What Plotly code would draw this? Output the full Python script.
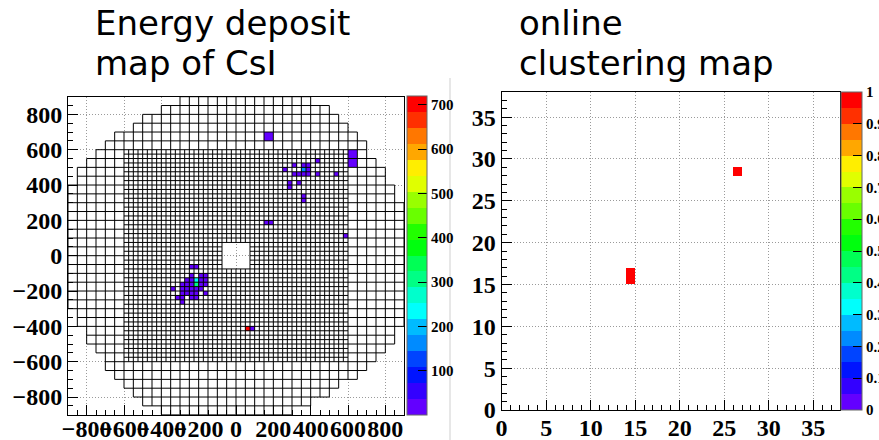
import numpy as np
import plotly.graph_objects as go

W, H = 879, 440

# ---------------- CsI calorimeter geometry (mm) ----------------
SMALL_CELL = 25
LARGE_CELL = 50
SMALL_HALF = 600
HOLE_HALF = 75
# upper-left quadrant: for each large-crystal column (inner |x| edge), top edge in y;
# the other quadrants follow by 90 degree rotation
LARGE_COL_INNER = list(range(0, 900, 50))
LARGE_COL_YMAX = [900, 900, 900, 900, 900, 900, 850, 850, 800, 800,
                  750, 700, 700, 650, 600, 550, 500, 400]

# ---------------- energy deposit hits ----------------
# lower-left corner of crystal (mm), crystal size (mm), deposited energy
HIT_X = [150, 600, 600,
         425, 250, 300, 350, 375, 350, 375, 350, 375, 300, 325, 425, 525,
         275, 275, 325, 350, 350, 150, 175, 575,
         -250, -225,
         -250, -200, -175,
         -275, -250, -225, -200, -175,
         -300, -275, -250, -225, -200, -175,
         -350, -300, -275, -250, -225, -200,
         -300, -275, -250, -225, -175,
         -325, -300, -250, -225,
         -300,
         50, 75]
HIT_Y = [650, 550, 500,
         525, 475, 500, 500, 500, 475, 475, 450, 450, 450, 450, 450, 450,
         400, 375, 400, 325, 300, 175, 175, 100,
         -75, -75,
         -125, -125, -125,
         -150, -150, -150, -150, -150,
         -175, -175, -175, -175, -175, -175,
         -200, -200, -200, -200, -200, -200,
         -225, -225, -225, -225, -225,
         -250, -250, -250, -250,
         -275,
         -425, -425]
HIT_SIZE = [50, 50, 50] + [25] * 55
HIT_E = [12, 20, 12,
         10, 10, 10, 10, 10, 160, 10, 10, 10, 10, 10, 10, 10,
         10, 10, 10, 10, 10, 10, 10, 10,
         10, 10,
         10, 10, 10,
         10, 10, 240, 10, 10,
         10, 10, 10, 300, 10, 10,
         10, 10, 10, 10, 10, 10,
         10, 10, 10, 10, 10,
         10, 10, 10, 10,
         10,
         710, 10]

# ---------------- online clustering map ----------------
CLUS_X = [14, 14, 26]
CLUS_Y = [15, 16, 28]
CLUS_V = [1, 1, 1]
CLUS_N = 38

E_MAX = 720
E_TICKS = [100, 200, 300, 400, 500, 600, 700]
CB_TICKS = [0, 0.1, 0.2, 0.3, 0.4, 0.5, 0.6, 0.7, 0.8, 0.9, 1]
CB_LABELS = ["0", "0.1", "0.2", "0.3", "0.4", "0.5", "0.6", "0.7", "0.8", "0.9", "1"]


# ---------------- ROOT "pretty" palette with 20 contours ----------------
def root_color(k, nbands=20, ncol=50):
    i = int((k + 0.99) * ncol / nbands)
    hue = 280 - (i + 1) * 280.0 / ncol

    def f(h):
        h = h % 360
        if h < 60:
            return h / 60
        if h < 180:
            return 1.0
        if h < 240:
            return (240 - h) / 60
        return 0.0

    r, g, b = f(hue + 120), f(hue), f(hue - 120)
    return "rgb(%d,%d,%d)" % (round(r * 255), round(g * 255), round(b * 255))


colorscale = []
for k in range(20):
    c = root_color(k)
    colorscale.append([k / 20, c])
    colorscale.append([(k + 1) / 20, c])

# ---------------- crystal list ----------------
cells = []
for ix in range(-SMALL_HALF // SMALL_CELL, SMALL_HALF // SMALL_CELL):
    for iy in range(-SMALL_HALF // SMALL_CELL, SMALL_HALF // SMALL_CELL):
        x0, y0 = ix * SMALL_CELL, iy * SMALL_CELL
        if -HOLE_HALF <= x0 < HOLE_HALF and -HOLE_HALF <= y0 < HOLE_HALF:
            continue
        cells.append((x0, y0, SMALL_CELL))

quad = []
for a, ymax in zip(LARGE_COL_INNER, LARGE_COL_YMAX):
    x0 = -a - LARGE_CELL
    for y0 in range(0, ymax, LARGE_CELL):
        if x0 >= -SMALL_HALF and y0 < SMALL_HALF:
            continue
        quad.append((x0, y0))
for _ in range(4):
    for x0, y0 in quad:
        cells.append((x0, y0, LARGE_CELL))
    quad = [(-(y0 + LARGE_CELL), x0) for x0, y0 in quad]   # rotate by 90 degrees

# ---------------- left heatmaps (25 mm bins) ----------------
NB = 72
centers = -900 + SMALL_CELL / 2 + SMALL_CELL * np.arange(NB)


def bin_of(v):
    return (v + 900) // SMALL_CELL


mask = np.full((NB, NB), np.nan)          # white crystal faces
for x0, y0, s in cells:
    n = s // SMALL_CELL
    mask[bin_of(y0):bin_of(y0) + n, bin_of(x0):bin_of(x0) + n] = 0

zl = np.full((NB, NB), np.nan)
for x, y, s, e in zip(HIT_X, HIT_Y, HIT_SIZE, HIT_E):
    n = s // SMALL_CELL
    zl[bin_of(y):bin_of(y) + n, bin_of(x):bin_of(x) + n] = e

# ---------------- crystal outlines ----------------
hseg, vseg = {}, {}
for x0, y0, s in cells:
    for yy in (y0, y0 + s):
        hseg.setdefault(yy, set()).add((x0, x0 + s))
    for xx in (x0, x0 + s):
        vseg.setdefault(xx, set()).add((y0, y0 + s))


def merge(segs):
    segs = sorted(segs)
    out = []
    for a, b in segs:
        if out and a <= out[-1][1]:
            out[-1][1] = max(out[-1][1], b)
        else:
            out.append([a, b])
    return out


lx, ly = [], []
for yy, segs in sorted(hseg.items()):
    for a, b in merge(segs):
        lx += [a, b, None]
        ly += [yy, yy, None]
for xx, segs in sorted(vseg.items()):
    for a, b in merge(segs):
        lx += [xx, xx, None]
        ly += [a, b, None]

# ---------------- right heatmap ----------------
zr = np.full((CLUS_N, CLUS_N), np.nan)
for x, y, v in zip(CLUS_X, CLUS_Y, CLUS_V):
    zr[y, x] = v
rc = np.arange(CLUS_N) + 0.5

fig = go.Figure()

cbfont = dict(family="Liberation Serif", size=15, color="black", weight="bold")

fig.add_trace(go.Heatmap(
    x=centers, y=centers, z=mask, zmin=0, zmax=1,
    colorscale=[[0, "white"], [1, "white"]], showscale=False,
    hoverinfo="skip", xaxis="x", yaxis="y",
))
fig.add_trace(go.Heatmap(
    x=centers, y=centers, z=zl, zmin=0, zmax=E_MAX, colorscale=colorscale,
    hoverongaps=False, xaxis="x", yaxis="y",
    colorbar=dict(x=407 / W, xanchor="left", y=1 - 96 / H, yanchor="top",
                  len=319 / H, lenmode="fraction", thickness=20, thicknessmode="pixels",
                  xpad=0, ypad=0, outlinewidth=1, outlinecolor="#666",
                  tickmode="array", tickvals=E_TICKS, ticks="inside", ticklen=9,
                  tickcolor="black", tickfont=cbfont),
))
fig.add_trace(go.Scatter(
    x=lx, y=ly, mode="lines", line=dict(color="black", width=1, simplify=False),
    hoverinfo="skip", showlegend=False, xaxis="x", yaxis="y",
))
fig.add_trace(go.Heatmap(
    x=rc, y=rc, z=zr, zmin=0, zmax=1, colorscale=colorscale,
    hoverongaps=False, xaxis="x2", yaxis="y2",
    colorbar=dict(x=841 / W, xanchor="left", y=1 - 92 / H, yanchor="top",
                  len=318 / H, lenmode="fraction", thickness=21, thicknessmode="pixels",
                  xpad=0, ypad=0, outlinewidth=1, outlinecolor="#666",
                  tickmode="array", tickvals=CB_TICKS, ticktext=CB_LABELS,
                  ticks="inside", ticklen=9, tickcolor="black", tickfont=cbfont),
))

tickfont = dict(family="Liberation Serif", size=24, color="black", weight="bold")
grid = dict(showgrid=True, gridcolor="#9a9a9a", griddash="1px,2px", gridwidth=1,
            showline=True, linecolor="black", linewidth=1, mirror=True,
            zeroline=False, ticks="inside", tickcolor="black", tickangle=0,
            tickfont=tickfont)

fig.update_layout(
    width=W, height=H, margin=dict(l=0, r=0, t=0, b=0, autoexpand=False),
    paper_bgcolor="white", plot_bgcolor="white", showlegend=False,
    xaxis=dict(domain=[68 / W, 404 / W], range=[-900, 900], tick0=0, dtick=200,
               ticklen=10, ticklabelstandoff=-8,
               minor=dict(dtick=50, tick0=0, ticks="inside", ticklen=5,
                          tickcolor="black", showgrid=False),
               anchor="y", **grid),
    yaxis=dict(domain=[1 - 414.7 / H, 1 - 96.7 / H], range=[-900, 900], tick0=0, dtick=200,
               ticklen=10, minor=dict(dtick=50, tick0=0, ticks="inside", ticklen=5,
                                      tickcolor="black", showgrid=False),
               anchor="x", **grid),
    xaxis2=dict(domain=[501.6 / W, 840 / W], range=[0, 38], tick0=0, dtick=5,
                ticklen=10, ticklabelstandoff=-4,
                minor=dict(dtick=1, tick0=0, ticks="inside", ticklen=5,
                           tickcolor="black", showgrid=False),
                anchor="y2", **grid),
    yaxis2=dict(domain=[1 - 410 / H, 1 - 92 / H], range=[0, 38], tick0=0, dtick=5,
                ticklen=10, minor=dict(dtick=1, tick0=0, ticks="inside", ticklen=5,
                                       tickcolor="black", showgrid=False),
                anchor="x2", **grid),
)

titlefont = dict(family="DejaVu Sans", size=34, color="black")
for txt, x, ypx in [("Energy deposit", 93, 23), ("map of CsI", 93, 63),
                    ("online", 517, 23), ("clustering map", 517, 63)]:
    fig.add_annotation(text=txt, x=x / W, y=1 - ypx / H, xref="paper", yref="paper",
                       xanchor="left", yanchor="middle", showarrow=False,
                       font=titlefont)

fig.add_shape(type="line", xref="paper", yref="paper", x0=450 / W, x1=450 / W,
              y0=0, y1=1 - 78 / H, line=dict(color="#cfcfcf", width=1))

fig.write_html("out.html")
